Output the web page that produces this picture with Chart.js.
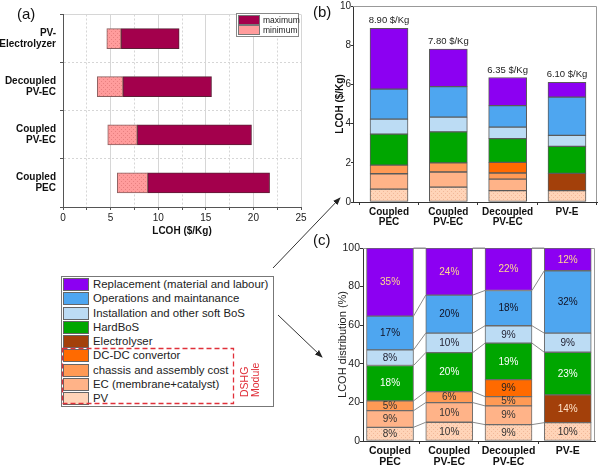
<!DOCTYPE html>
<html><head><meta charset="utf-8">
<script src="https://cdn.jsdelivr.net/npm/chart.js@4.4.0/dist/chart.umd.min.js"></script>
<style>
html,body{margin:0;padding:0;background:#fff;width:600px;height:472px;overflow:hidden;font-family:"Liberation Sans",Arial,sans-serif;}
canvas{position:absolute;}
.lbl{position:absolute;font-size:15px;color:#111;}
#legA{position:absolute;left:236px;top:13px;width:61px;height:22px;border:1px solid #888;background:#fff;font-size:8.5px;color:#222;}
#legA div{position:absolute;left:1px;height:10px;line-height:10px;white-space:nowrap;}
#legA span{display:inline-block;width:20px;height:8px;border:1px solid #777;vertical-align:top;margin-right:3px;}
#leg{position:absolute;left:61px;top:276px;width:211px;height:129px;border:1px solid #777;background:#fff;font-size:11.4px;color:#222;}
#leg .row{position:absolute;left:1px;height:13px;line-height:13px;white-space:nowrap;}
#leg .sw{display:inline-block;width:24px;height:11px;border:1px solid #666;vertical-align:top;margin-right:4px;}
svg{position:absolute;left:0;top:0;}
</style></head><body>
<canvas id="ca" width="310" height="245" style="left:0;top:0;width:310px;height:245px"></canvas>
<canvas id="cb" width="300" height="235" style="left:300px;top:0;width:300px;height:235px"></canvas>
<canvas id="cc" width="300" height="244" style="left:300px;top:228px;width:300px;height:244px"></canvas>
<div class="lbl" style="left:17px;top:5px">(a)</div>
<div class="lbl" style="left:313px;top:3px">(b)</div>
<div class="lbl" style="left:313px;top:231px">(c)</div>
<div id="legA"></div>
<div id="leg"></div>
<svg width="600" height="472">
 <defs><marker id="ah" markerWidth="8" markerHeight="8" refX="7" refY="4" orient="auto" markerUnits="userSpaceOnUse"><path d="M0,1 L8,4 L0,7 z" fill="#222"/></marker></defs>
 <line x1="273" y1="268" x2="340" y2="198" stroke="#333" stroke-width="1" marker-end="url(#ah)"/>
 <line x1="278" y1="315" x2="322" y2="357" stroke="#333" stroke-width="1" marker-end="url(#ah)"/>
 <rect x="62.5" y="348.5" width="171" height="55" fill="none" stroke="#e0303a" stroke-width="1.3" stroke-dasharray="5,3"/>
 <text transform="translate(248,397) rotate(-90)" font-family="Liberation Sans" font-size="10.5" fill="#e0303a">DSHG</text>
 <text transform="translate(259,397) rotate(-90)" font-family="Liberation Sans" font-size="10.5" fill="#e0303a">Module</text>
</svg>
<script>
// ---------- data ----------
const casesA = [['PV-','Electrolyzer'],['Decoupled','PV-EC'],['Coupled','PV-EC'],['Coupled','PEC']];
const lowA  = [4.6, 3.6, 4.7, 5.7];
const midA  = [6.1, 6.3, 7.8, 8.9];
const highA = [12.2, 15.6, 19.8, 21.7];

const cases = [['Coupled','PEC'],['Coupled','PV-EC'],['Decoupled','PV-EC'],['PV-E']];
const components = ['PV','EC (membrane+catalyst)','chassis and assembly cost','DC-DC convertor','Electrolyser','HardBoS','Installation and other soft BoS','Operations and maintanance','Replacement (material and labour)'];

// (b) LCOH in $/Kg
const pvB           = [0.66, 0.76, 0.58, 0.58];
const ecB           = [0.78, 0.77, 0.59, null];
const chassisB      = [0.44, 0.47, 0.31, null];
const dcdcB         = [null, null, 0.54, null];
const electrolyserB = [null, null, null, 0.88];
const hardBosB      = [1.58, 1.58, 1.21, 1.38];
const softBosB      = [0.77, 0.75, 0.59, 0.56];
const omB           = [1.53, 1.56, 1.10, 1.95];
const replB         = [3.10, 1.91, 1.43, 0.76];
const totalLabelsB  = ['8.90 $/Kg','7.80 $/Kg','6.35 $/Kg','6.10 $/Kg'];

// (c) LCOH distribution in %
const pvC           = [7.1, 9.7, 8.5, 9.5];
const ecC           = [8.6, 10.2, 9.7, null];
const chassisC      = [5.1, 5.7, 4.8, null];
const dcdcC         = [null, null, 8.8, null];
const electrolyserC = [null, null, null, 14.4];
const hardBosC      = [18.3, 20.2, 18.9, 22.1];
const softBosC      = [8.1, 10.1, 9.0, 9.9];
const omC           = [17.5, 19.7, 18.3, 32.3];
const replC         = [35.3, 24.4, 22.0, 11.8];
// printed percentages
const pvL           = ['8%','10%','9%','10%'];
const ecL           = ['9%','10%','9%',''];
const chassisL      = ['5%','6%','5%',''];
const dcdcL         = ['','','9%',''];
const electrolyserL = ['','','','14%'];
const hardBosL      = ['18%','20%','19%','23%'];
const softBosL      = ['8%','10%','9%','9%'];
const omL           = ['17%','20%','18%','32%'];
const replL         = ['35%','24%','22%','12%'];

// ---------- styles ----------
const colors = ['#ffd4b8','#ffb388','#ff9a55','#ff6a00','#a3400a','#00a600','#bcdcf4','#4ea6f0','#8c00f2'];
const textColors = ['#333','#333','#333','#222','#ffe2c8','#ffffff','#223','#112','#ffd98f'];
function dotPattern(base, dot){
  const c=document.createElement('canvas'); c.width=4;c.height=4;
  const g=c.getContext('2d'); g.fillStyle=base; g.fillRect(0,0,4,4);
  g.fillStyle=dot; g.fillRect(1,1,1,1); g.fillRect(3,3,1,1);
  return g.createPattern(c,'repeat');
}
const fills = colors.slice();

Chart.defaults.font.family = '"Liberation Sans", Arial, sans-serif';
Chart.defaults.color = '#222';
Chart.defaults.animation = false;

const seriesB = [pvB, ecB, chassisB, dcdcB, electrolyserB, hardBosB, softBosB, omB, replB];
const seriesC = [pvC, ecC, chassisC, dcdcC, electrolyserC, hardBosC, softBosC, omC, replC];
const labelsC = [pvL, ecL, chassisL, dcdcL, electrolyserL, hardBosL, softBosL, omL, replL];

// legends (HTML)
const legA = document.getElementById('legA');
[['maximum','#a3004c'],['minimum','#ff9c9c']].forEach((r,i)=>{
  const d=document.createElement('div'); d.style.top=(1+i*10)+'px';
  d.innerHTML='<span style="background:'+r[1]+'"></span>'+r[0]; legA.appendChild(d);
});
const leg = document.getElementById('leg');
for (let k=components.length-1, r=0; k>=0; k--, r++){
  const d=document.createElement('div'); d.className='row'; d.style.top=(1+r*14.25)+'px';
  d.innerHTML='<span class="sw" style="background:'+colors[k]+'"></span>'+components[k]; leg.appendChild(d);
}

const framePlugin = {id:'frame', beforeDatasetsDraw(chart){
  const a=chart.chartArea, g=chart.ctx; g.save(); g.strokeStyle='#999'; g.lineWidth=1;
  g.beginPath(); g.moveTo(a.left, a.top+0.5); g.lineTo(a.right-0.5, a.top+0.5); g.lineTo(a.right-0.5, a.bottom); g.stroke(); g.restore();
}};

// ---------- (a) ----------
new Chart(document.getElementById('ca'), {
  type:'bar',
  data:{labels:casesA, datasets:[
    {label:'minimum', data:lowA.map((v,i)=>[v, midA[i]]), backgroundColor:dotPattern('#ff9c9c','#e88080'), borderColor:'#8a6060', borderWidth:1, borderSkipped:false, grouped:false, barThickness:20},
    {label:'maximum', data:midA.map((v,i)=>[v, highA[i]]), backgroundColor:'#a3004c', borderColor:'#5a2035', borderWidth:1, borderSkipped:false, grouped:false, barThickness:20}
  ]},
  options:{indexAxis:'y', responsive:false,
    layout:{padding:{top:10,right:9,left:0,bottom:0}},
    plugins:{legend:{display:false}, tooltip:{enabled:false}},
    scales:{
      x:{min:0, max:25,
        ticks:{stepSize:2.5, autoSkip:false, maxRotation:0, callback:(v)=> (v%5===0 ? v : ''), font:{size:10}, color:'#222', padding:2},
        grid:{color:'#d6d6d6', tickLength:3, tickColor:'#555'},
        border:{color:'#555', dash:(ctx)=> (ctx.tick && ctx.tick.value%5!==0) ? [2,2] : []},
        title:{display:true, text:'LCOH ($/Kg)', font:{size:10, weight:'bold'}, color:'#111', padding:{top:0,bottom:8}},
        afterFit:(s)=>{s.height=38;}},
      y:{ticks:{font:{size:10, weight:'bold', lineHeight:1.05}, color:'#111', padding:4},
        grid:{offset:true, color:'#d6d6d6', tickLength:3, tickColor:'#555'},
        border:{color:'#555', dash:(ctx)=> (ctx.index>0 && ctx.index<4) ? [2,2] : []},
        afterFit:(s)=>{s.width=63;}}
    }}
});

// ---------- (b) ----------
const totalsPlugin = {id:'totals', afterDatasetsDraw(chart){
  const g=chart.ctx; g.save(); g.font='9.5px "Liberation Sans", Arial'; g.fillStyle='#222'; g.textAlign='center'; g.textBaseline='alphabetic';
  const top=chart.getDatasetMeta(seriesB.length-1);
  top.data.forEach((el,i)=>{ g.fillText(totalLabelsB[i], el.x, el.y-5); });
  g.restore();
}};
new Chart(document.getElementById('cb'), {
  type:'bar',
  data:{datasets: seriesB.map((arr,k)=>({label:components[k], data:arr.map((v,i)=>({x:i,y:v})),
    backgroundColor: k===0 ? dotPattern(colors[0],'#f2b898') : fills[k], borderColor:'#5a5a5a', borderWidth:1, borderSkipped:false, barThickness:38}))},
  options:{responsive:false,
    layout:{padding:{top:6,right:3,left:30,bottom:0}},
    plugins:{legend:{display:false}, tooltip:{enabled:false}},
    scales:{
      x:{type:'linear', offset:false, stacked:true, min:-0.607, max:3.506,
        afterBuildTicks:(s)=>{s.ticks=[0,1,2,3].map(v=>({value:v}));},
        ticks:{callback:(v)=>cases[v], font:{size:10, weight:'bold', lineHeight:1.0}, color:'#111', padding:2, maxRotation:0, autoSkip:false},
        grid:{drawOnChartArea:false, tickLength:3, tickColor:'#333'},
        border:{color:'#333'},
        afterFit:(s)=>{s.height=33;}},
      y:{stacked:true, min:0, max:10,
        ticks:{stepSize:2, font:{size:10}, color:'#222', padding:0},
        grid:{drawOnChartArea:false, tickLength:2, tickColor:'#333'},
        border:{color:'#333'},
        title:{display:true, text:'LCOH ($/Kg)', font:{size:10, weight:'bold'}, color:'#111', padding:{top:4,bottom:0}},
        afterFit:(s)=>{s.width=23;}}
    }},
  plugins:[framePlugin, totalsPlugin]
});

// ---------- (c) ----------
const connectPlugin = {id:'connect', afterDatasetsDraw(chart){
  const g=chart.ctx; g.save(); g.strokeStyle='#8a8a8a'; g.lineWidth=1;
  seriesC.forEach((arr,k)=>{
    const meta=chart.getDatasetMeta(k);
    for (let i=0;i<arr.length-1;i++){
      if (arr[i]==null || arr[i+1]==null) continue;
      const a=meta.data[i], b=meta.data[i+1];
      g.beginPath(); g.moveTo(a.x+a.width/2, a.y); g.lineTo(b.x-b.width/2, b.y); g.stroke();
    }
  });
  g.restore();
}};
const pctPlugin = {id:'pct', afterDatasetsDraw(chart){
  const g=chart.ctx; g.save(); g.font='10px "Liberation Sans", Arial'; g.textAlign='center'; g.textBaseline='middle';
  labelsC.forEach((arr,k)=>{
    const meta=chart.getDatasetMeta(k);
    arr.forEach((t,i)=>{ if(!t || seriesC[k][i]==null) return; const el=meta.data[i];
      g.fillStyle=textColors[k]; g.fillText(t, el.x, (el.y+el.base)/2+0.5); });
  });
  g.restore();
}};
new Chart(document.getElementById('cc'), {
  type:'bar',
  data:{datasets: seriesC.map((arr,k)=>({label:components[k], data:arr.map((v,i)=>({x:i,y:v})),
    backgroundColor: k===0 ? dotPattern(colors[0],'#f2b898') : fills[k], borderColor:'#6a6a6a', borderWidth:1, borderSkipped:false, barThickness:47}))},
  options:{responsive:false,
    layout:{padding:{top:20,right:5,left:32,bottom:0}},
    plugins:{legend:{display:false}, tooltip:{enabled:false}},
    scales:{
      x:{type:'linear', offset:false, stacked:true, min:-0.456, max:3.46,
        afterBuildTicks:(s)=>{s.ticks=[0,1,2,3].map(v=>({value:v}));},
        ticks:{callback:(v)=>cases[v], font:{size:10.5, weight:'bold', lineHeight:1.05}, color:'#111', padding:2, maxRotation:0, autoSkip:false},
        grid:{drawOnChartArea:false, tickLength:3, tickColor:'#333'},
        border:{color:'#333'},
        afterFit:(s)=>{s.height=31;}},
      y:{stacked:true, min:0, max:100,
        ticks:{stepSize:20, font:{size:10.5}, color:'#222', padding:0},
        grid:{drawOnChartArea:false, tickLength:3, tickColor:'#333'},
        border:{color:'#333'},
        title:{display:true, text:'LCOH distribution (%)', font:{size:11}, color:'#222', padding:{top:4,bottom:0}},
        afterFit:(s)=>{s.width=31;}}
    }},
  plugins:[framePlugin, connectPlugin, pctPlugin]
});
</script>
</body></html>
